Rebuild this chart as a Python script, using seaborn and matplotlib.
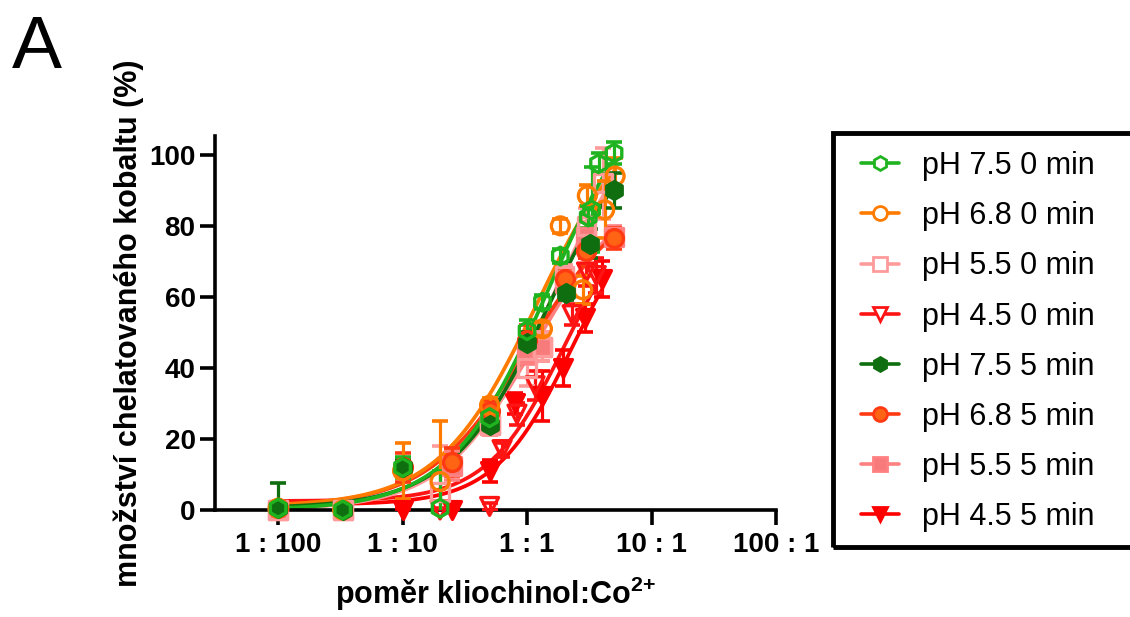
import numpy as np
import pandas as pd
import matplotlib
matplotlib.use("Agg")
import matplotlib.pyplot as plt
from matplotlib.lines import Line2D
from matplotlib.patches import Rectangle
import seaborn as sns

# ---- measured points: ratio kliochinol:Co2+, mean chelation (%), SD ----
labels = ["pH 7.5 0 min", "pH 6.8 0 min", "pH 5.5 0 min", "pH 4.5 0 min",
          "pH 7.5 5 min", "pH 6.8 5 min", "pH 5.5 5 min", "pH 4.5 5 min"]

x_75_0 = [0.01, 0.033, 0.1, 0.2, 0.5, 1.0, 1.33, 1.85, 3.1, 3.3, 3.75, 5.0]
y_75_0 = [0.5, 0.0, 12.0, 0.5, 26.0, 50.5, 58.5, 71.5, 82.5, 84.5, 97.5, 100.5]
e_75_0 = [1.0, 0.5, 3.0, 10.5, 3.0, 3.0, 2.0, 2.0, 3.0, 12.0, 3.0, 3.0]

x_68_0 = [0.01, 0.033, 0.1, 0.2, 0.5, 1.33, 1.85, 2.8, 3.05, 4.2, 5.1]
y_68_0 = [0.5, 0.0, 11.0, 8.0, 29.5, 51.0, 80.0, 62.0, 88.5, 84.5, 94.0]
e_68_0 = [1.0, 0.5, 8.0, 17.0, 2.0, 2.0, 2.0, 4.0, 3.0, 8.0, 5.0]

x_55_0 = [0.01, 0.033, 0.2, 0.5, 1.0, 1.33, 2.0, 3.0, 4.1]
y_55_0 = [0.0, 0.0, 5.0, 24.0, 40.0, 46.0, 66.0, 80.0, 92.0]
e_55_0 = [0.5, 0.5, 13.0, 3.0, 5.0, 4.0, 3.0, 5.0, 10.0]

x_45_0 = [0.2, 0.5, 0.63, 0.83, 1.16, 2.3, 3.0, 3.6]
y_45_0 = [0.0, 1.0, 17.0, 27.0, 35.0, 55.0, 67.0, 66.0]
e_45_0 = [0.5, 1.0, 2.0, 3.0, 4.0, 3.0, 4.0, 5.0]

x_75_5 = [0.01, 0.033, 0.1, 0.5, 1.0, 2.05, 3.2, 5.0]
y_75_5 = [0.5, 0.0, 12.0, 24.0, 47.0, 61.0, 75.0, 90.0]
e_75_5 = [7.0, 0.5, 2.0, 2.0, 3.0, 2.0, 4.0, 5.0]

x_68_5 = [0.01, 0.1, 0.25, 0.5, 1.0, 2.0, 3.0, 5.0]
y_68_5 = [0.5, 12.0, 13.5, 28.0, 48.0, 65.0, 73.0, 76.5]
e_68_5 = [1.0, 4.0, 4.0, 3.0, 4.0, 3.0, 4.0, 3.0]

x_55_5 = [0.01, 0.033, 0.25, 0.5, 1.0, 1.33, 2.0, 3.0, 5.0]
y_55_5 = [0.0, 0.0, 12.5, 24.0, 44.0, 46.0, 64.0, 77.0, 77.0]
e_55_5 = [0.5, 0.5, 4.0, 3.0, 3.0, 4.0, 3.0, 4.0, 3.0]

x_45_5 = [0.1, 0.25, 0.5, 0.8, 1.33, 1.95, 2.9, 4.0]
y_45_5 = [0.0, 0.0, 11.0, 30.0, 32.0, 40.0, 54.0, 65.0]
e_45_5 = [0.5, 0.5, 3.0, 3.0, 7.0, 5.0, 4.0, 5.0]

# ---- four-parameter logistic fit results per series ----
fit_bottom = [0.0, 1.0, 0.0, 2.5, 0.5, 1.0, 0.0, 1.5]
fit_top    = [125.0, 115.0, 120.0, 90.0, 115.0, 90.0, 95.0, 90.0]
fit_ec50   = [1.5, 1.2, 1.6, 2.0, 1.5, 1.0, 1.2, 2.3]
fit_hill   = [1.1, 1.1, 1.1, 1.4, 1.1, 1.1, 1.1, 1.4]

# axis tick labels
tick_pos = [0.01, 0.1, 1, 10, 100]
tick_txt = ["1 : 100", "1 : 10", "1 : 1", "10 : 1", "100 : 1"]
y_ticks = [0, 20, 40, 60, 80, 100]

xs = [x_75_0, x_68_0, x_55_0, x_45_0, x_75_5, x_68_5, x_55_5, x_45_5]
ys = [y_75_0, y_68_0, y_55_0, y_45_0, y_75_5, y_68_5, y_55_5, y_45_5]
es = [e_75_0, e_68_0, e_55_0, e_45_0, e_75_5, e_68_5, e_55_5, e_45_5]

# ---- styling ----
line_col = ["#1fb31f", "#ff7b00", "#ff9b9b", "#ff1414",
            "#0f6e0f", "#ff3a12", "#ff8080", "#ff0000"]
face_col = ["none", "none", "none", "none",
            "#0f6e0f", "#ff6414", "#f77b7b", "#ff0000"]
markers = ["h", "o", "s", "v", "h", "o", "s", "v"]

sns.set_theme(style="ticks")
plt.rcParams["font.family"] = ["Liberation Sans", "DejaVu Sans"]
plt.rcParams["text.color"] = "black"
plt.rcParams["axes.labelcolor"] = "black"
plt.rcParams["mathtext.fontset"] = "custom"
plt.rcParams["mathtext.rm"] = "Liberation Sans"
plt.rcParams["mathtext.bf"] = "Liberation Sans:bold"

W, H = 1130, 617
fig = plt.figure(figsize=(W / 100, H / 100), dpi=100)
ax = fig.add_axes([215 / W, 107 / H, 561 / W, 374 / H])

def logistic(x, b, t, ec, n):
    return b + (t - b) / (1.0 + (ec / x) ** n)

# draw order: reds first, greens last (green on top)
order = [7, 3, 6, 2, 5, 1, 4, 0]
for i in order:
    xg = np.geomspace(0.01, max(xs[i]), 200)
    curve = pd.DataFrame({"x": xg,
                          "y": logistic(xg, fit_bottom[i], fit_top[i],
                                        fit_ec50[i], fit_hill[i])})
    sns.lineplot(data=curve, x="x", y="y", ax=ax, color=line_col[i],
                 lw=2.7, zorder=2, legend=False)
    ax.errorbar(xs[i], ys[i], yerr=es[i], fmt="none", ecolor=line_col[i],
                elinewidth=2.3, capsize=5.5, capthick=2.6, zorder=3)
    pts = pd.DataFrame({"x": xs[i], "y": ys[i]})
    sns.scatterplot(data=pts, x="x", y="y", ax=ax, marker=markers[i],
                    s=165, facecolors=face_col[i], edgecolors=line_col[i],
                    linewidths=2.4, zorder=4, clip_on=False, legend=False)

ax.set_xscale("log")
ax.set_xlim(10 ** -2.507, 100)
ax.set_ylim(0, 105.3)
ax.set_xticks(tick_pos)
ax.set_xticklabels(tick_txt)
ax.xaxis.set_minor_locator(matplotlib.ticker.NullLocator())
ax.set_yticks(y_ticks)
ax.set_yticklabels([str(v) for v in y_ticks])

for s in ["top", "right"]:
    ax.spines[s].set_visible(False)
for s in ["left", "bottom"]:
    ax.spines[s].set_linewidth(2.6)
    ax.spines[s].set_color("black")
    ax.spines[s].set_zorder(2.5)

ax.tick_params(axis="both", which="major", length=11, width=2.6,
               color="black", labelsize=20, labelcolor="black")
ax.tick_params(axis="x", pad=5)
ax.tick_params(axis="y", pad=3)
for lab in ax.get_xticklabels() + ax.get_yticklabels():
    lab.set_fontweight("bold")

ax.set_xlabel(r"poměr kliochinol:Co$^{\mathbf{2{+}}}$", fontsize=22,
              fontweight="bold", labelpad=12)
ax.set_ylabel("množství chelatovaného kobaltu (%)", fontsize=22,
              fontweight="bold", labelpad=4)

fig.text(12 / W, 1 - 68 / H, "A", fontsize=54, ha="left", va="baseline")

handles = []
for i in range(8):
    handles.append(Line2D([0], [0], color=line_col[i], lw=2.6,
                          marker=markers[i], markersize=10,
                          markerfacecolor=("white" if face_col[i] == "none"
                                           else face_col[i]),
                          markeredgecolor=line_col[i], markeredgewidth=2))
leg = fig.legend(handles, labels, loc="upper left",
                 bbox_to_anchor=(861 / W, 1 - 151 / H), frameon=False,
                 fontsize=22, handlelength=1.25, handletextpad=0.75,
                 labelspacing=0.66, borderaxespad=0, borderpad=0)

fig.patches.append(Rectangle((833 / W, 1 - 547 / H), 320 / W, 414 / H,
                             transform=fig.transFigure, fill=False,
                             edgecolor="black", lw=3.5))

fig.savefig("out.png", dpi=100)
